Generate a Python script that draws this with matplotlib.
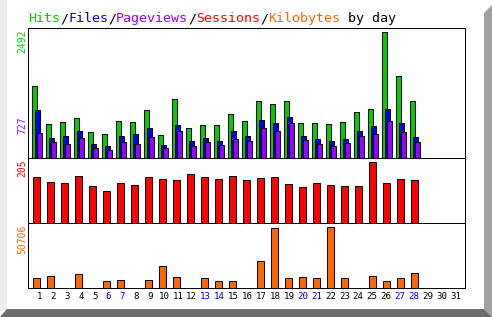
#!/usr/bin/env python3
"""Daily traffic chart: hits/files/pageviews, sessions and kilobytes."""
import matplotlib
matplotlib.use("Agg")
import matplotlib.pyplot as plt
from matplotlib.patches import Polygon, Rectangle

# --- data -------------------------------------------------------------
days = list(range(1, 32))
weekend_days = [6, 7, 13, 14, 20, 21, 27, 28]
hits = [1421, 668, 708, 787, 509, 470, 727, 708, 945, 450, 1163, 589, 648, 648,
        866, 727, 1124, 1064, 1124, 688, 688, 668, 708, 906, 965, 2492, 1619, 1124]
files = [951, 390, 430, 535, 272, 232, 430, 470, 589, 252, 648, 331, 390, 331,
         529, 430, 747, 688, 807, 430, 371, 331, 371, 529, 628, 965, 688, 410]
pages = [490, 311, 272, 390, 192, 153, 311, 272, 410, 192, 529, 232, 311, 252,
         371, 331, 589, 529, 700, 351, 272, 232, 291, 430, 470, 727, 509, 311]
sessions = [155, 138, 135, 159, 125, 108, 135, 128, 155, 149, 145, 165, 155, 149,
            159, 145, 152, 155, 132, 122, 135, 128, 125, 125, 205, 135, 149, 145]
kilobytes = [8310, 9970, 0, 11630, 0, 5820, 6650, 0, 6650, 18280, 9140, 0, 8310, 5820,
             5820, 0, 22440, 49860, 8310, 9140, 8310, 50706, 8310, 0, 9970, 5820, 8310, 12470]

C_HITS = "#00cc00"
C_FILES = "#0000ee"
C_PAGES = "#9900ff"
C_SESS = "#ff0000"
C_KB = "#ff6600"
C_WEEKEND = "#0000ee"

W, H = 492, 317
PX = 1 / 14.0  # one pixel in slot units (a day slot is 14 px wide)
LW = 0.72      # 1 px line


def px_axes(fig, x0, y0, x1, y1):
    return fig.add_axes([x0 / W, 1 - y1 / H, (x1 - x0) / W, (y1 - y0) / H])


def clean(ax, top):
    ax.set_xlim(0, 437 * PX)
    ax.set_ylim(0, top)
    ax.set_xticks([])
    ax.set_yticks([])
    for sp in ax.spines.values():
        sp.set_linewidth(LW)
        sp.set_color("black")
    ax.set_facecolor("white")


def main():
    fig = plt.figure(figsize=(W / 100, H / 100), dpi=100)
    fig.patch.set_facecolor("white")

    # frame: light strip on the left, shaded strips right and bottom
    pxt = fig.transFigure
    def fp(x, y):
        return (x / W, 1 - y / H)
    fig.patches.append(Rectangle(fp(0, 311), 7 / W, 311 / H, transform=pxt,
                                 facecolor="#ececec", edgecolor="none"))
    fig.patches.append(Polygon([fp(484, 13), fp(492, 5), fp(492, 317), fp(484, 309)],
                               transform=pxt, facecolor="#a0a0a0", edgecolor="none"))
    fig.patches.append(Polygon([fp(0, 317), fp(7, 309), fp(484, 309), fp(492, 317)],
                               transform=pxt, facecolor="#6c6c6c", edgecolor="none"))

    n = len(hits)
    slot = [d - 1 for d in days[:n]]

    # top panel: hits / files / pageviews
    ax1 = px_axes(fig, 28, 28, 465, 158)
    clean(ax1, max(hits) * 1.034)
    ax1.bar([s + 3.5 * PX for s in slot], hits, width=5.8 * PX, align="edge",
            color=C_HITS, edgecolor="black", linewidth=LW)
    ax1.bar([s + 6.5 * PX for s in slot], files, width=5.5 * PX, align="edge",
            color=C_FILES, edgecolor="black", linewidth=LW)
    ax1.bar([s + 8.5 * PX for s in slot], pages, width=5.5 * PX, align="edge",
            color=C_PAGES, edgecolor="black", linewidth=LW)

    # middle panel: sessions
    ax2 = px_axes(fig, 28, 158, 465, 223)
    clean(ax2, max(sessions) * 1.07)
    ax2.bar([s + 4.5 * PX for s in slot], sessions, width=7.6 * PX, align="edge",
            color=C_SESS, edgecolor="black", linewidth=LW)

    # bottom panel: kilobytes
    ax3 = px_axes(fig, 28, 223, 465, 288)
    clean(ax3, max(kilobytes) * 1.066)
    ax3.bar([s + 4.5 * PX for s in slot], kilobytes, width=7.6 * PX, align="edge",
            color=C_KB, edgecolor="black", linewidth=LW)

    mono = "DejaVu Sans Mono"

    # day labels
    ticks = [0.8 + (d - 1) * 0.991 for d in days]
    ax3.set_xticks(ticks)
    ax3.set_xticklabels([str(d) for d in days], fontsize=6.6, family=mono)
    ax3.tick_params(axis="x", length=0, pad=3)
    for lab, d in zip(ax3.get_xticklabels(), days):
        lab.set_color(C_WEEKEND if d in weekend_days else "black")

    # max labels on the left
    def side_label(ax, text, color, yval, ycoords, dy):
        ax.annotate(text, xy=(0, yval), xycoords=("axes fraction", ycoords),
                    xytext=(-4.3, dy), textcoords="offset points", rotation=90,
                    ha="center", va="top" if ycoords == "axes fraction" else "center",
                    color=color, fontsize=7, family=mono)

    side_label(ax1, str(max(hits)), C_HITS, 1.0, "axes fraction", -0.8)
    side_label(ax1, str(max(pages)), C_PAGES, max(pages), "data", -3)
    side_label(ax2, str(max(sessions)), C_SESS, 1.0, "axes fraction", -1.2)
    side_label(ax3, str(max(kilobytes)), C_KB, 1.0, "axes fraction", -1.2)

    # title, one coloured word at a time
    parts = [("Hits", C_HITS), ("/", "black"), ("Files", C_FILES), ("/", "black"),
             ("Pageviews", C_PAGES), ("/", "black"), ("Sessions", C_SESS),
             ("/", "black"), ("Kilobytes", C_KB), (" by day", "black")]
    x = 28.0
    for txt, col in parts:
        fig.text(x / W, 1 - 18.5 / H, txt, color=col, fontsize=9.6, family=mono,
                 ha="left", va="center")
        x += 8.0 * len(txt)

    fig.savefig("out.png", dpi=100, facecolor=fig.get_facecolor())
    plt.close(fig)


if __name__ == "__main__":
    main()
